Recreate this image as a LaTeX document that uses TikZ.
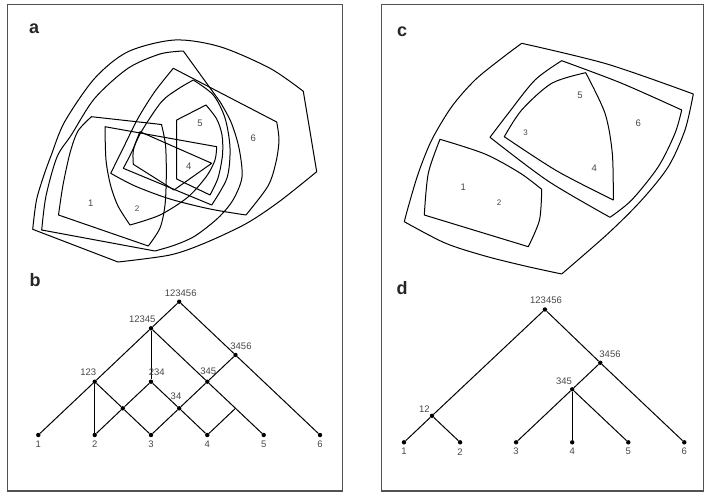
\documentclass[tikz,border=0pt]{standalone}
\usepackage{fontspec}
\setmainfont{Liberation Sans}
\begin{document}
\begin{tikzpicture}[x=1pt,y=-1pt,
  frame/.style={draw=black!68, line width=1.3pt},
  blob/.style={draw=black, line width=1pt, line join=round},
  dot/.style={circle, fill=black, inner sep=0pt, minimum size=4.4pt},
  edge/.style={draw=black, line width=1pt},
  num/.style={text=black!72, font=\fontsize{9.5}{10}\selectfont, inner sep=0pt},
  smallnum/.style={text=black!72, font=\fontsize{8}{9}\selectfont, inner sep=0pt},
  panel/.style={font=\fontsize{18}{18}\selectfont\bfseries, text=black!85, inner sep=0pt, anchor=base west}]
\useasboundingbox (0,0) rectangle (704,493);
% frames
\draw[frame] (7.5,4.5) rectangle (342.5,491);
\draw[frame] (381.5,4.5) rectangle (703.8,491);
% panel letters
\node[panel] (pa) at (29,33.3) {a};
\node[panel] (pb) at (29.5,286.7) {b};
\node[panel] (pc) at (397,36.5) {c};
\node[panel] (pd) at (396.5,294.5) {d};

% ---------------- panel a ----------------
% 123456
\draw[blob] plot[smooth] coordinates {(32.7,229.3) (36.5,200) (44,175) (51.3,155) (64.7,121.7) (94.7,78.3) (128,51.7) (174.7,40) (220,46.7) (270,68.3) (303.3,91.3)}
  -- (316.7,171.7)
  -- plot[smooth] coordinates {(316.7,171.7) (280,201) (246.7,223.3) (205,243) (170,255) (118,262)}
  -- cycle;
% 12345
\draw[blob] plot[smooth] coordinates {(41.7,230) (46,196) (57,157) (71.3,135) (94.7,98.3) (128,68.3) (160,54) (183.3,51)}
  -- (220,101.7)
  -- plot[smooth] coordinates {(220,101.7) (231,122) (239,148) (242,177) (233,200) (218,218) (195,236) (175,245) (155,251)}
  -- cycle;
% 3456
\draw[blob] (173.3,68.3) -- (276.7,122)
  -- plot[smooth] coordinates {(276.7,122) (279,140) (276,162) (268,186) (246,215)}
  -- plot[smooth] coordinates {(246,215) (210,209) (170,199) (135,186) (110.7,173.3)}
  -- plot[smooth] coordinates {(110.7,173.3) (124.7,145) (138,118.3) (154.7,91.7) (173.3,68.3)}
  -- cycle;
% 345
\draw[blob] plot[smooth] coordinates {(123.3,168.3) (131.3,153) (141.3,131.7) (161.3,102) (178,89) (193.3,80)}
  -- plot[smooth] coordinates {(193.3,80) (213.3,95) (225,118) (230,148) (227,178) (211.7,205)}
  -- cycle;
% 45
\draw[blob] (176.7,179) -- (176.7,120) -- (206,105)
  -- plot[smooth] coordinates {(206,105) (216.7,119) (222,135) (222.5,155) (218,178) (210,195)}
  -- cycle;
% 34
\draw[blob] (140,131.7) -- (211.7,163.3) -- (174,190) -- (133.3,164.3) .. controls (132.5,150) .. (140,131.7) -- cycle;
% 123
\draw[blob] (91.5,116.7) -- (161.5,124.5)
  -- plot[smooth] coordinates {(161.5,124.5) (165.5,145) (166.3,175) (165,205) (160,228) (148.3,246)}
  -- (58.5,215)
  -- plot[smooth] coordinates {(58.5,215) (63,185) (70,153) (78,131) (91.5,116.7)}
  -- cycle;
% 234
\draw[blob] (105,126.7) -- (216.7,146.7)
  -- plot[smooth] coordinates {(216.7,146.7) (215,160) (206.7,176) (188,197) (160,215) (130,225)}
  -- plot[smooth] coordinates {(130,225) (118,206) (110.5,185) (106,160) (105,126.7)}
  -- cycle;
% labels a
\node[num] (a1) at (90.7,203.3) {1};
\node[smallnum] (a2) at (137,208.3) {2};
\node[num] (a4) at (188.8,165.8) {4};
\node[num] (a5) at (200,123.3) {5};
\node[num] (a6) at (253.3,138.3) {6};

% ---------------- panel c ----------------
\draw[blob] plot[smooth] coordinates {(404.3,221.7) (408.3,206.7) (418.3,173.3) (431.7,140) (451.7,106.7) (475,80) (501.7,58.3) (521.7,43.3)}
  -- plot[smooth] coordinates {(521.7,43.3) (607,64) (693.3,94)}
  -- plot[smooth] coordinates {(693.3,94) (685,130) (668.3,166.7) (641.7,200) (608.3,233.3) (561.7,274)}
  -- plot[smooth] coordinates {(561.7,274) (525,266) (485,256) (445,243) (404.3,221.7)}
  -- cycle;
% 3456
\draw[blob] plot[smooth] coordinates {(561.7,60.7) (621,83) (681.7,110)}
  -- plot[smooth] coordinates {(681.7,110) (675,133.3) (658.3,166.7) (631.7,200) (610,217.3)}
  -- plot[smooth] coordinates {(610,217.3) (548,181) (490,137.3)}
  -- plot[smooth] coordinates {(490,137.3) (508.3,113.3) (535,80) (561.7,60.7)}
  -- cycle;
% 345
\draw[blob] plot[smooth] coordinates {(585.7,72.7) (605,113.3) (612.3,153.3) (613.3,200)}
  -- plot[smooth] coordinates {(613.3,200) (557,171) (504.3,136.7)}
  -- plot[smooth] coordinates {(504.3,136.7) (521.7,110) (551.7,83.3) (585.7,72.7)}
  -- cycle;
% 12
\draw[blob] plot[smooth] coordinates {(440,139.3) (485,154) (520,173) (541.7,189.3)}
  -- plot[smooth] coordinates {(541.7,189.3) (539.5,220) (528.3,246.7)}
  -- (424.3,215)
  -- plot[smooth] coordinates {(424.3,215) (428.3,173.3) (440,139.3)}
  -- cycle;
% labels c
\node[num] (c1) at (463.3,187.3) {1};
\node[smallnum] (c2) at (499,202.7) {2};
\node[smallnum] (c3) at (525.7,132.3) {3};
\node[num] (c4) at (594.3,168.3) {4};
\node[num] (c5) at (580,95) {5};
\node[num] (c6) at (638.3,123.3) {6};

% ---------------- panel b ----------------
\node[dot] (b1) at (38.3,435) {};
\node[dot] (b2) at (94.7,435) {};
\node[dot] (b3) at (151,435) {};
\node[dot] (b4) at (207.3,435) {};
\node[dot] (b5) at (263.7,435) {};
\node[dot] (b6) at (320,435) {};
\node[dot] (b23) at (122.8,408.3) {};
\node[dot] (b34) at (179.2,408.3) {};
\coordinate (b45) at (235.5,408.3);
\node[dot] (b123) at (94.7,381.7) {};
\node[dot] (b234) at (151,381.7) {};
\node[dot] (b345) at (207.3,381.7) {};
\node[dot] (b3456) at (235.5,355) {};
\node[dot] (b12345) at (151,328.3) {};
\node[dot] (b123456) at (179.2,301.7) {};
\draw[edge] (b123456) -- (b12345);
\draw[edge] (b123456) -- (b3456);
\draw[edge] (b3456) -- (b6);
\draw[edge] (b3456) -- (b345);
\draw[edge] (b12345) -- (b123);
\draw[edge] (b12345) -- (b234);
\draw[edge] (b12345) -- (b345);
\draw[edge] (b123) -- (b1);
\draw[edge] (b123) -- (b2);
\draw[edge] (b123) -- (b23);
\draw[edge] (b234) -- (b23);
\draw[edge] (b234) -- (b34);
\draw[edge] (b345) -- (b34);
\draw[edge] (b345) -- (b45);
\draw[edge] (b23) -- (b2);
\draw[edge] (b23) -- (b3);
\draw[edge] (b34) -- (b3);
\draw[edge] (b34) -- (b4);
\draw[edge] (b45) -- (b4);
\draw[edge] (b45) -- (b5);
\node[num] (lb1) at (38.3,444.3) {1};
\node[num] (lb2) at (94.7,444.3) {2};
\node[num] (lb3) at (151,444.3) {3};
\node[num] (lb4) at (207.3,444.3) {4};
\node[num] (lb5) at (263.7,444.3) {5};
\node[num] (lb6) at (320,444.3) {6};
\node[num] (lb123456) at (180.7,293.3) {123456};
\node[num] (lb12345) at (142.3,319.3) {12345};
\node[num] (lb3456) at (241,346) {3456};
\node[num] (lb123) at (88.3,372.3) {123};
\node[num] (lb234) at (156.7,372.3) {234};
\node[num] (lb345) at (208.3,371.7) {345};
\node[num] (lb34) at (176,396.7) {34};

% ---------------- panel d ----------------
\node[dot] (d1) at (404,442.3) {};
\node[dot] (d2) at (460.1,442.3) {};
\node[dot] (d3) at (516.1,442.3) {};
\node[dot] (d4) at (572.2,442.3) {};
\node[dot] (d5) at (628.3,442.3) {};
\node[dot] (d6) at (684.3,442.3) {};
\node[dot] (d12) at (432,415.8) {};
\node[dot] (d345) at (572.2,389.3) {};
\node[dot] (d3456) at (600.3,362.8) {};
\node[dot] (d123456) at (544.9,309.5) {};
\draw[edge] (d123456) -- (d12);
\draw[edge] (d12) -- (d1);
\draw[edge] (d12) -- (d2);
\draw[edge] (d123456) -- (d3456);
\draw[edge] (d3456) -- (d6);
\draw[edge] (d3456) -- (d345);
\draw[edge] (d345) -- (d3);
\draw[edge] (d345) -- (d4);
\draw[edge] (d345) -- (d5);
\node[num] (ld1) at (404,451.7) {1};
\node[num] (ld2) at (460.1,451.7) {2};
\node[num] (ld3) at (516.1,451.7) {3};
\node[num] (ld4) at (572.2,451.7) {4};
\node[num] (ld5) at (628.3,451.7) {5};
\node[num] (ld6) at (684.3,451.7) {6};
\node[num] (ld123456) at (546,300.7) {123456};
\node[num] (ld3456) at (610,354.3) {3456};
\node[num] (ld345) at (564,381.7) {345};
\node[num] (ld12) at (424.3,409.3) {12};
\end{tikzpicture}
\end{document}
